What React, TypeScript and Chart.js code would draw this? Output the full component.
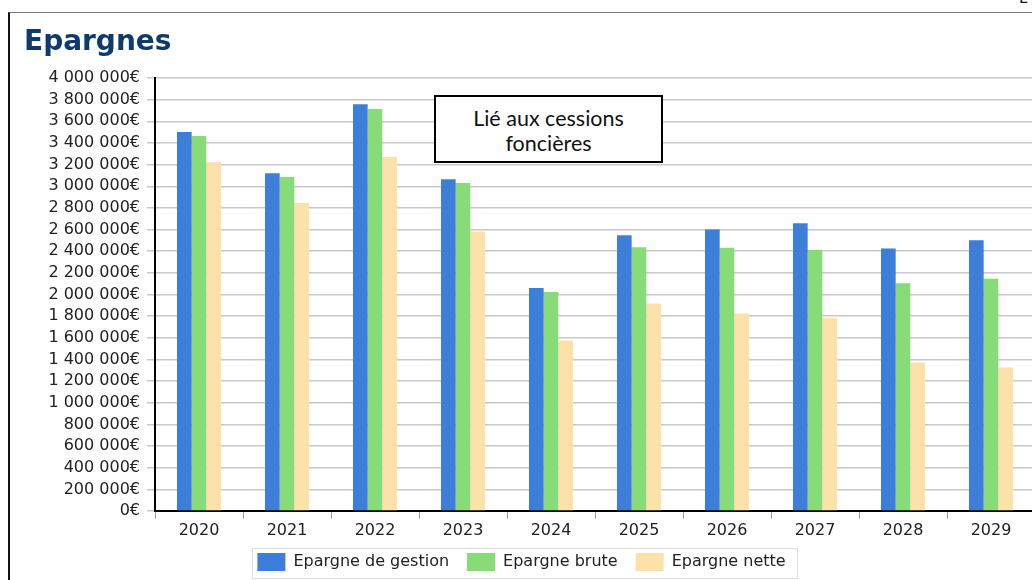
import React, { useEffect, useRef } from "react";
import { Chart, registerables } from "chart.js";

Chart.register(...registerables);

const categories = ["2020", "2021", "2022", "2023", "2024", "2025", "2026", "2027", "2028", "2029"];
const epargneGestion = [3502000, 3120000, 3757000, 3065000, 2061000, 2547000, 2600000, 2658000, 2425000, 2501000];
const epargneBrute = [3465000, 3085000, 3714000, 3031000, 2024000, 2437000, 2431000, 2413000, 2105000, 2145000];
const epargneNette = [3222000, 2846000, 3271000, 2582000, 1575000, 1917000, 1825000, 1785000, 1372000, 1326000];
const seriesLabels = ["Epargne de gestion", "Epargne brute", "Epargne nette"];
const yMin = 0;
const yMax = 4000000;
const yStep = 200000;
const titleText = "Epargnes";
const noteLines = ["Lié aux cessions", "foncières"];

const fmt = (v: number) =>
  v === 0 ? "0€" : String(v).replace(/\B(?=(\d{3})+(?!\d))/g, " ") + "€";

const legendBorder = {
  id: "legendBorder",
  afterDraw(chart: any) {
    const lg = chart.legend;
    if (!lg || !lg.legendHitBoxes || !lg.legendHitBoxes.length) return;
    const hb = lg.legendHitBoxes;
    const first = hb[0];
    const last = hb[hb.length - 1];
    const x0 = first.left - 5;
    const x1 = last.left + last.width + 12;
    const y0 = first.top - 5;
    const y1 = first.top + first.height + 7;
    const ctx = chart.ctx;
    ctx.save();
    ctx.strokeStyle = "#dcdcdc";
    ctx.lineWidth = 1;
    ctx.strokeRect(Math.round(x0) + 0.5, Math.round(y0) + 0.5, Math.round(x1 - x0), Math.round(y1 - y0));
    ctx.restore();
  },
};

export default function App() {
  const ref = useRef<HTMLCanvasElement | null>(null);

  useEffect(() => {
    if (!ref.current) return;
    const font = { family: "'DejaVu Sans'", size: 16 };
    const chart = new Chart(ref.current, {
      type: "bar",
      data: {
        labels: categories,
        datasets: [
          { label: seriesLabels[0], data: epargneGestion, backgroundColor: "#3d7fd8" },
          { label: seriesLabels[1], data: epargneBrute, backgroundColor: "#87dc78" },
          { label: seriesLabels[2], data: epargneNette, backgroundColor: "#fce1a8" },
        ],
      },
      options: {
        animation: false,
        responsive: false,
        maintainAspectRatio: false,
        layout: { padding: { top: 77, left: 0, right: 3, bottom: 0 } },
        datasets: { bar: { categoryPercentage: 0.5, barPercentage: 1 } },
        plugins: {
          legend: {
            position: "bottom",
            labels: {
              font,
              color: "#222",
              boxWidth: 28,
              boxHeight: 18,
              padding: 18,
            },
          },
          tooltip: { enabled: false },
          title: { display: false },
        },
        scales: {
          x: {
            grid: { display: true, drawOnChartArea: false, drawTicks: true, tickLength: 8, color: "#a0a0a0", offset: true },
            border: { color: "#000", width: 2 },
            ticks: { font, color: "#222", padding: 2, autoSkip: false, maxRotation: 0 },
            afterFit: (s: any) => { s.height = 24; },
          },
          y: {
            min: yMin,
            max: yMax,
            grid: { color: "#c8c8c8", lineWidth: 1.5, tickLength: 8 },
            border: { color: "#000", width: 2 },
            ticks: { stepSize: yStep, autoSkip: false, font, color: "#222", padding: 7, callback: (v: any) => fmt(Number(v)) },
            afterFit: (s: any) => { s.width = 147; },
          },
        },
      },
      plugins: [legendBorder],
    });
    return () => chart.destroy();
  }, []);

  return (
    <div style={{ position: "fixed", left: 0, top: 0, width: 1032, height: 580, overflow: "hidden", background: "#fff" }}>
      <div style={{ position: "absolute", left: 8, top: 12, width: 2000, height: 2000, borderLeft: "2px solid #111", borderTop: "1.5px solid #777" }} />
      <span style={{ position: "absolute", left: 1019, top: -9, fontFamily: "'DejaVu Sans'", fontSize: 15, lineHeight: "15px", color: "#111" }}>L</span>
      <canvas ref={ref} width={1030} height={580} style={{ position: "absolute", left: 8, top: 1, width: 1030, height: 580 }} />
      <div style={{ position: "absolute", left: 24, top: 24, fontFamily: "'DejaVu Sans'", fontWeight: "bold", fontSize: 28, lineHeight: "34px", color: "#0d3b6e" }}>{titleText}</div>
      <div style={{ position: "absolute", left: 434, top: 95, width: 229, height: 68, boxSizing: "border-box", border: "2px solid #000", background: "#fff", fontFamily: "Lato", fontSize: 21.5, lineHeight: "25px", color: "#111", textAlign: "center", paddingTop: 9 }}>
        <div>{noteLines[0]}</div>
        <div>{noteLines[1]}</div>
      </div>
    </div>
  );
}
